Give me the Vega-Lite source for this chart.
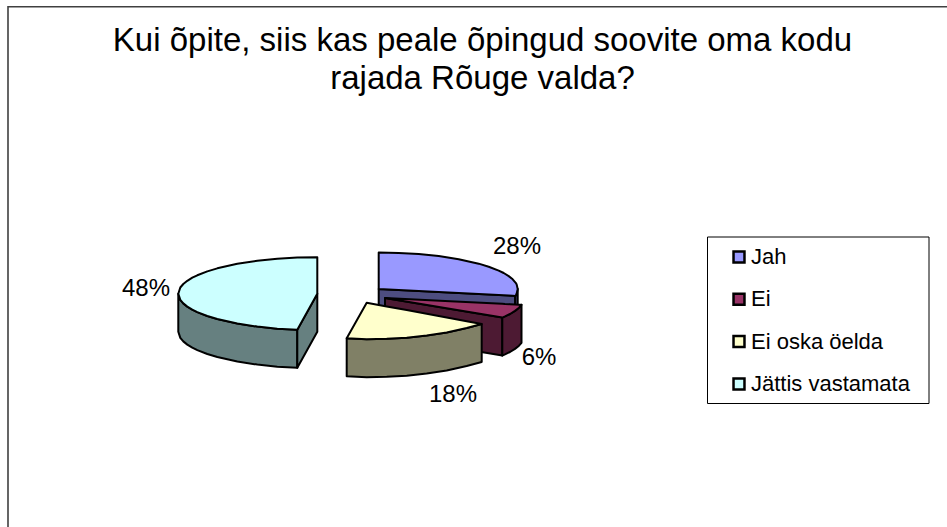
{
"$schema":"https://vega.github.io/schema/vega-lite/v6.json",
"width":947,"height":527,
"autosize":{"type":"none"},
"padding":0,
"background":"white",
"view":{"stroke":null},
"title":{"text":["Kui õpite, siis kas peale õpingud soovite oma kodu","rajada Rõuge valda?"],"font":"Liberation Sans","fontSize":33,"fontWeight":"normal","color":"#000","anchor":"middle","baseline":"top","dx":9,"dy":96,"lineHeight":38.5,"offset":0},
"datasets":{
"walls":[
{"slice":"Jättis vastamata","part":"arc","x":178.3,"y":293.7,"y2":331.7},
{"slice":"Jättis vastamata","part":"arc","x":180.3,"y":299.9,"y2":337.9},
{"slice":"Jättis vastamata","part":"arc","x":183.3,"y":303.4,"y2":341.4},
{"slice":"Jättis vastamata","part":"arc","x":187.3,"y":306.6,"y2":344.6},
{"slice":"Jättis vastamata","part":"arc","x":192.3,"y":309.7,"y2":347.7},
{"slice":"Jättis vastamata","part":"arc","x":197.3,"y":312.1,"y2":350.1},
{"slice":"Jättis vastamata","part":"arc","x":207.3,"y":316,"y2":354},
{"slice":"Jättis vastamata","part":"arc","x":217.3,"y":319.05,"y2":357.05},
{"slice":"Jättis vastamata","part":"arc","x":237.3,"y":323.55,"y2":361.55},
{"slice":"Jättis vastamata","part":"arc","x":257.3,"y":326.6,"y2":364.6},
{"slice":"Jättis vastamata","part":"arc","x":277.3,"y":328.7,"y2":366.7},
{"slice":"Jättis vastamata","part":"arc","x":297.3,"y":329.8,"y2":367.8},
{"slice":"Jättis vastamata","part":"cut","x":297.3,"y":329.8,"y2":367.8},
{"slice":"Jättis vastamata","part":"cut","x":317.3,"y":293.7,"y2":331.7},
{"slice":"Jah","part":"cut","x":378.7,"y":289,"y2":327},
{"slice":"Jah","part":"cut","x":515.2,"y":295.8,"y2":333.8},
{"slice":"Jah","part":"arc","x":515.2,"y":295.9,"y2":333.9},
{"slice":"Jah","part":"arc","x":516.7,"y":293.4,"y2":331.4},
{"slice":"Jah","part":"arc","x":517.7,"y":289,"y2":327},
{"slice":"Ei","part":"cut","x":385,"y":298,"y2":336},
{"slice":"Ei","part":"cut","x":502.3,"y":317.6,"y2":355.6},
{"slice":"Ei","part":"arc","x":502.3,"y":317.6,"y2":355.6},
{"slice":"Ei","part":"arc","x":505,"y":316.4,"y2":354.4},
{"slice":"Ei","part":"arc","x":510,"y":314,"y2":352},
{"slice":"Ei","part":"arc","x":515,"y":310.9,"y2":348.9},
{"slice":"Ei","part":"arc","x":519,"y":307.7,"y2":345.7},
{"slice":"Ei","part":"arc","x":521.5,"y":304.8,"y2":342.8},
{"slice":"Ei oska öelda","part":"arc","x":346.7,"y":338.3,"y2":376.3},
{"slice":"Ei oska öelda","part":"arc","x":366.7,"y":339.2,"y2":377.2},
{"slice":"Ei oska öelda","part":"arc","x":386.7,"y":338.8,"y2":376.8},
{"slice":"Ei oska öelda","part":"arc","x":406.7,"y":337.7,"y2":375.7},
{"slice":"Ei oska öelda","part":"arc","x":426.7,"y":335.6,"y2":373.6},
{"slice":"Ei oska öelda","part":"arc","x":446.7,"y":332.55,"y2":370.55},
{"slice":"Ei oska öelda","part":"arc","x":466.7,"y":328.05,"y2":366.05},
{"slice":"Ei oska öelda","part":"arc","x":481.7,"y":324,"y2":362}
],
"tops":[
{"slice":"Jah","x":378.7,"y":252.5,"y2":289},
{"slice":"Jah","x":398.7,"y":252.9,"y2":290},
{"slice":"Jah","x":418.7,"y":254,"y2":291},
{"slice":"Jah","x":438.7,"y":256.1,"y2":292},
{"slice":"Jah","x":458.7,"y":259.15,"y2":293},
{"slice":"Jah","x":478.7,"y":263.65,"y2":294},
{"slice":"Jah","x":488.7,"y":266.7,"y2":294.5},
{"slice":"Jah","x":498.7,"y":270.6,"y2":295},
{"slice":"Jah","x":503.7,"y":273,"y2":295.25},
{"slice":"Jah","x":508.7,"y":276.1,"y2":295.5},
{"slice":"Jah","x":512.7,"y":279.3,"y2":295.7},
{"slice":"Jah","x":515.7,"y":282.8,"y2":295.9},
{"slice":"Jah","x":516.7,"y":284.6,"y2":293.4},
{"slice":"Jah","x":517.7,"y":289,"y2":289},
{"slice":"Ei","x":385,"y":298,"y2":298},
{"slice":"Ei","x":445,"y":301,"y2":308},
{"slice":"Ei","x":502.3,"y":303.8,"y2":317.6},
{"slice":"Ei","x":505,"y":304,"y2":316.4},
{"slice":"Ei","x":510,"y":304.2,"y2":314},
{"slice":"Ei","x":515,"y":304.5,"y2":310.9},
{"slice":"Ei","x":519,"y":304.7,"y2":307.7},
{"slice":"Ei","x":521.5,"y":304.8,"y2":304.8},
{"slice":"Ei oska öelda","x":346.7,"y":338.3,"y2":338.3},
{"slice":"Ei oska öelda","x":366.7,"y":302.7,"y2":339.2},
{"slice":"Ei oska öelda","x":386.7,"y":306.4,"y2":338.8},
{"slice":"Ei oska öelda","x":406.7,"y":310.1,"y2":337.7},
{"slice":"Ei oska öelda","x":426.7,"y":313.8,"y2":335.6},
{"slice":"Ei oska öelda","x":446.7,"y":317.5,"y2":332.55},
{"slice":"Ei oska öelda","x":466.7,"y":321.2,"y2":328.05},
{"slice":"Ei oska öelda","x":481.7,"y":324,"y2":324},
{"slice":"Jättis vastamata","x":178.3,"y":293.7,"y2":293.7},
{"slice":"Jättis vastamata","x":180.3,"y":287.5,"y2":299.9},
{"slice":"Jättis vastamata","x":183.3,"y":284,"y2":303.4},
{"slice":"Jättis vastamata","x":187.3,"y":280.8,"y2":306.6},
{"slice":"Jättis vastamata","x":192.3,"y":277.7,"y2":309.7},
{"slice":"Jättis vastamata","x":197.3,"y":275.3,"y2":312.1},
{"slice":"Jättis vastamata","x":207.3,"y":271.4,"y2":316},
{"slice":"Jättis vastamata","x":217.3,"y":268.35,"y2":319.05},
{"slice":"Jättis vastamata","x":237.3,"y":263.85,"y2":323.55},
{"slice":"Jättis vastamata","x":257.3,"y":260.8,"y2":326.6},
{"slice":"Jättis vastamata","x":277.3,"y":258.7,"y2":328.7},
{"slice":"Jättis vastamata","x":297.3,"y":257.6,"y2":329.8},
{"slice":"Jättis vastamata","x":317.3,"y":257.2,"y2":293.7}
],
"labels":[
{"slice":"Jah","share":"28%","x":517,"y":247},
{"slice":"Ei","share":"6%","x":539,"y":358},
{"slice":"Ei oska öelda","share":"18%","x":453,"y":395},
{"slice":"Jättis vastamata","share":"48%","x":146,"y":289}
],
"frame":[
{"x":947,"y":6.7},
{"x":8,"y":6.7},
{"x":8,"y":527}
],
"box":[
{"x":707.5,"x2":929,"y":237,"y2":403.5}
]
},
"layer":[
{"data":{"name":"frame"},
 "mark":{"type":"line","stroke":"#404040","strokeWidth":1.6},
 "encoding":{
  "x":{"field":"x","type":"quantitative","scale":{"domain":[0,947],"nice":false,"zero":false},"axis":null},
  "y":{"field":"y","type":"quantitative","scale":{"domain":[527,0],"nice":false,"zero":false},"axis":null},
  "order":{"field":"y","type":"quantitative"}}},
{"data":{"name":"box"},
 "mark":{"type":"rect","fill":"#fff","stroke":"#000","strokeWidth":1},
 "encoding":{
  "x":{"field":"x","type":"quantitative","axis":null},
  "x2":{"field":"x2"},
  "y":{"field":"y","type":"quantitative","axis":null},
  "y2":{"field":"y2"}}},
{"data":{"name":"walls"},
 "mark":{"type":"area","stroke":"#000","strokeWidth":2,"strokeJoin":"round","opacity":1},
 "encoding":{
  "x":{"field":"x","type":"quantitative","axis":null},
  "y":{"field":"y","type":"quantitative","axis":null},
  "y2":{"field":"y2"},
  "detail":{"field":"part"},
  "color":{"field":"slice","type":"nominal","legend":null,"scale":{"domain":["Jah","Ei","Ei oska öelda","Jättis vastamata"],"range":["#4d4d80","#4d1a33","#808066","#668080"]}}}},
{"data":{"name":"tops"},
 "mark":{"type":"area","stroke":"#000","strokeWidth":2,"strokeJoin":"round","opacity":1},
 "encoding":{
  "x":{"field":"x","type":"quantitative","axis":null},
  "y":{"field":"y","type":"quantitative","axis":null},
  "y2":{"field":"y2"},
  "color":{"field":"slice","type":"nominal","scale":{"domain":["Jah","Ei","Ei oska öelda","Jättis vastamata"],"range":["#9999ff","#993366","#ffffcc","#ccffff"]},
   "legend":{"title":null,"orient":"none","legendX":714,"legendY":238,"symbolType":"square","symbolSize":120,"symbolStrokeWidth":2.5,"symbolStrokeColor":"#000","symbolOffset":6,"fillColor":null,"strokeColor":null,"padding":8,"labelFont":"Liberation Sans","labelFontSize":22,"labelColor":"#000","labelOffset":1,"rowPadding":20.3}}}},
{"data":{"name":"labels"},
 "mark":{"type":"text","font":"Liberation Sans","fontSize":24,"color":"#000","align":"center","baseline":"middle"},
 "encoding":{
  "x":{"field":"x","type":"quantitative","axis":null},
  "y":{"field":"y","type":"quantitative","axis":null},
  "text":{"field":"share"}}}
],
"resolve":{"scale":{"color":"independent"}}
}
